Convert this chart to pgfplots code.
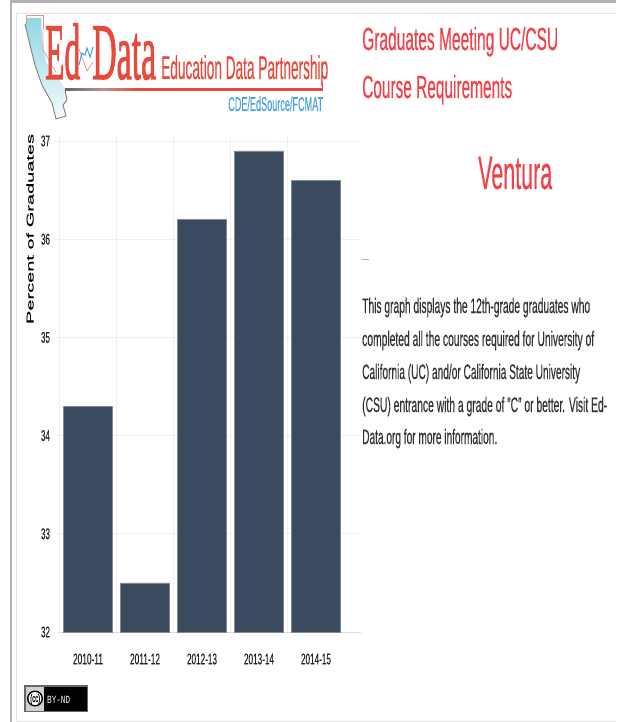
\documentclass[border=0pt]{standalone}
\usepackage{graphicx}
\usepackage{fontspec}
\usepackage{pgfplots}
\pgfplotsset{compat=1.18}
\setmainfont[FakeBold=0.35]{Liberation Sans}
\newfontfamily\plainsans{Liberation Sans}
\newfontfamily\serifish[FakeBold=1.6]{Liberation Serif}
\newfontfamily\monoish{Liberation Mono}
\definecolor{bar}{HTML}{3A4A5F}
\definecolor{gridc}{HTML}{EFEFEF}
\definecolor{logored}{HTML}{E8493A}
\definecolor{logoblue}{HTML}{4AA3DF}
\definecolor{headred}{HTML}{F23F48}
\definecolor{bodyc}{HTML}{333333}
\definecolor{calif}{HTML}{6CC8DA}
\newcommand\T[6]{\node[anchor=base west,inner sep=0pt,text=#5] at (#1,#2) {\fontsize{#4}{#4}\selectfont\resizebox{#3pt}{\height}{#6}};}
\newcommand\lab[2]{\resizebox{#1pt}{\height}{#2}}
\begin{document}
\begin{tikzpicture}[x=1pt,y=-1pt]
\useasboundingbox (0,0) rectangle (616,722);
\fill[white] (0,0) rectangle (616,722);
% page frame
\fill[black!30] (10,0) rectangle (616,3);
\fill[black!30] (10,0) rectangle (12,722);
\draw[gridc!95!black,line width=1pt] (616,14) -- (16,14) -- (16,721) -- (616,721);
% logo
\shade[left color=calif!75!white,right color=calif!8!white,shading angle=0]
  (27,18) -- (41,18) -- (42,40) -- (46,62) -- (65,88) -- (67,100) -- (63,105) -- (66,116) -- (56,118) -- (52,103) -- (42,85) -- (35,65) -- (30,45) -- (25,25) -- cycle;
\draw[black!50,line width=0.9pt] (25,24) -- (30,45) -- (35,65) -- (42,85) -- (52,103) -- (56,119) -- (66,116) -- (63,105) -- (67,100) -- (65,90);
\draw[logored!60,line width=0.7pt] (26,24) -- (26,15) -- (43,15) -- (43,28);
\draw[logored!60,line width=0.7pt] (43,28) -- (43,50) -- (56,72);
\T{45}{79}{35}{80}{logored}{{\serifish Ed}}
\T{92}{79}{64}{80}{logored}{{\serifish Data}}
\draw[logored!60,line width=0.8pt] (79,49) -- (87,71) -- (93,62);
\draw[logoblue,line width=1.1pt] (79,65) -- (82,53) -- (85,55) -- (87,48) -- (90,57) -- (93,47);
\T{161}{79}{167}{33}{logored}{Education Data Partnership}
\shade[left color=black!60,right color=logored,middle color=logored!50!black!50] (65,88.2) rectangle (140,90.6);
\fill[logored] (140,88.2) rectangle (323,90.6);
\fill[logored] (321.5,84) rectangle (323,90.6);
\T{228}{111}{95}{20}{logoblue}{CDE/EdSource/FCMAT}
% headings
\T{362}{50}{196}{32}{headred}{Graduates Meeting UC/CSU}
\T{362}{98}{150}{32}{headred}{Course Requirements}
\T{478}{189}{74}{47}{headred}{Ventura}
\fill[black!30] (362,258.5) rectangle (369,260);
% description
\T{362}{313}{228}{21}{bodyc}{This graph displays the 12th-grade graduates who}
\T{362}{346}{232}{21}{bodyc}{completed all the courses required for University of}
\T{362}{379}{218}{21}{bodyc}{California (UC) and/or California State University}
\T{362}{412}{245}{21}{bodyc}{(CSU) entrance with a grade of "C" or better. Visit Ed-}
\T{362}{444}{135}{21}{bodyc}{Data.org for more information.}
% licence badge
\fill[black!60] (24,685) rectangle (88,712);
\fill[black] (25.5,686.5) rectangle (86.5,710.5);
\fill[black!18] (25.5,686.5) rectangle (44,710.5);
\fill[black] (35,698.5) circle (8);
\fill[white] (35,698.5) circle (6.5);
\T{30}{702}{10}{11}{black}{(cc)}
\T{47}{703}{23}{11}{white}{{\monoish BY-ND}}
% chart
\begin{axis}[
  at={(59.5pt,-632pt)},anchor=south west,
  scale only axis,width=301.5pt,height=497pt,
  xmin=-0.5,xmax=4.7895,ymin=32,ymax=37.061,
  axis lines*=left,axis line style={-,draw=gridc!92!black},
  ybar,bar width=49pt,
  tick align=outside,major tick length=5pt,
  ytick={32,33,34,35,36,37},
  yticklabels={\lab{9}{32},\lab{9}{33},\lab{9}{34},\lab{9}{35},\lab{9}{36},\lab{9}{37}},
  ymajorgrids,grid style={gridc,line width=0.8pt},
  ytick style={draw=gridc,line width=0.8pt},
  xtick={0,1,2,3,4},
  xticklabels={\lab{30}{2010-11},\lab{30}{2011-12},\lab{30}{2012-13},\lab{30}{2013-14},\lab{30}{2014-15}},
  xtick style={draw=none},
  extra x ticks={-0.5,0.5,1.5,2.5,3.5},
  extra x tick labels={},
  extra x tick style={grid=major,tick style={draw=gridc,line width=0.8pt},major tick length=8pt},
  tick label style={font=\fontsize{15.5}{16}\selectfont,text=black!85},
  xticklabel style={yshift=-13pt},
  yticklabel style={xshift=-1pt},
  ylabel={\resizebox{190pt}{\height}{Percent of Graduates}},
  ylabel style={font=\plainsans\fontsize{11.5}{12}\selectfont,text=black!85},
  every axis y label/.style={at={(axis description cs:-0.0978,0.811)},rotate=90,anchor=center},
]
\addplot[fill=bar,draw=bar!65!white,line width=0.5pt,bar shift=0pt] coordinates {(0,34.3) (1,32.5) (2,36.2) (3,36.9) (4,36.6)};
\end{axis}
\end{tikzpicture}
\end{document}
